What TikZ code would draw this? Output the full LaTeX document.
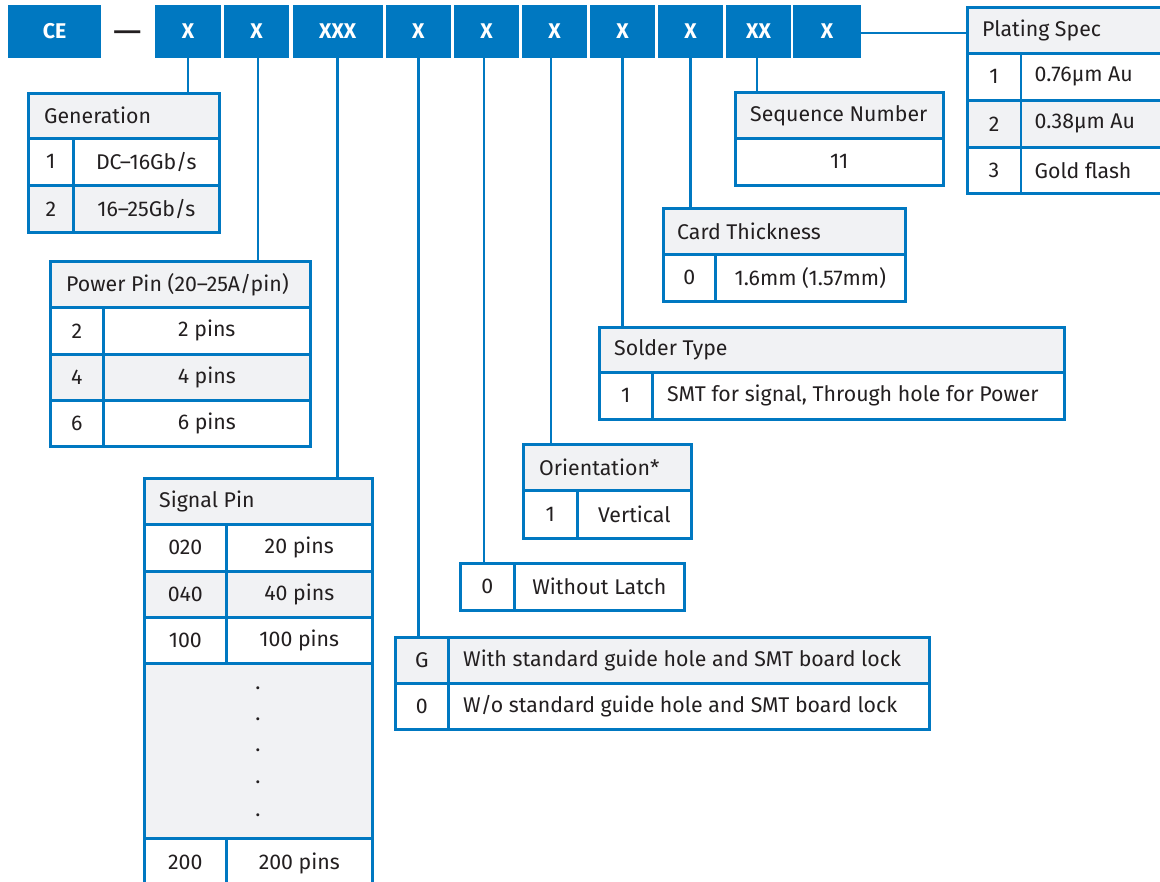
\documentclass[tikz,border=0pt]{standalone}
\usepackage{fontspec}
\setmainfont{Fira Sans}
\definecolor{ceblue}{HTML}{0078C1}
\definecolor{hdr}{HTML}{F1F2F4}
\definecolor{txtc}{HTML}{231F20}
\newcommand\tfont{\fontsize{21.3}{25}\selectfont}
\newcommand\cellbx[7]{\node[cellbox, fill=#6, minimum width=#4pt, minimum height=#5pt] (#1) at (#2,#3) {#7};}
\begin{document}
\begin{tikzpicture}[x=1pt,y=-1pt,
  topbox/.style={fill=ceblue, text=white, font=\tfont\bfseries, minimum height=53pt, inner sep=0pt},
  cellbox/.style={draw=ceblue, line width=2.6pt, inner sep=0pt, anchor=north west, text=txtc, font=\tfont},
  wire/.style={draw=ceblue, line width=2.6pt},
  lbl/.style={anchor=west, inner sep=0pt, text=txtc, font=\tfont},
  dotl/.style={inner sep=0pt, text=txtc, font=\tfont}]
\useasboundingbox (0,0) rectangle (1160,882);
% top bar
\node[topbox, minimum width=93pt] (ce) at (54.5,31.5) {CE};
\node[inner sep=0pt, text=txtc, font=\fontsize{36}{36}\selectfont] (dash) at (128,37.5) {—};
\node[topbox, minimum width=66pt] (x1) at (188,31.5) {X};
\node[topbox, minimum width=65pt] (x2) at (256.5,31.5) {X};
\node[topbox, minimum width=90pt] (x3) at (337.7,31.5) {XXX};
\node[topbox, minimum width=65pt] (x4) at (418.4,31.5) {X};
\node[topbox, minimum width=65pt] (x5) at (486.5,31.5) {X};
\node[topbox, minimum width=65pt] (x6) at (554.5,31.5) {X};
\node[topbox, minimum width=65pt] (x7) at (622.5,31.5) {X};
\node[topbox, minimum width=65pt] (x8) at (690.5,31.5) {X};
\node[topbox, minimum width=65pt] (x9) at (758.5,31.5) {XX};
\node[topbox, minimum width=68pt] (x10) at (827,31.5) {X};
% Generation
\cellbx{gen}{27}{92}{191}{45}{hdr}{}
\node[lbl] (genT) at ([xshift=17pt]gen.west) {Generation};
\cellbx{g1a}{27}{137}{45}{47}{white}{1}
\cellbx{g1b}{72}{137}{146}{47}{white}{DC–16Gb/s}
\cellbx{g2a}{27}{184}{45}{47}{hdr}{2}
\cellbx{g2b}{72}{184}{146}{47}{hdr}{16–25Gb/s}
% Power pin
\cellbx{pw}{49}{260}{260}{46}{hdr}{}
\node[lbl] (pwT) at ([xshift=17pt]pw.west) {Power Pin (20–25A/pin)};
\cellbx{p1a}{49}{306}{53}{47}{white}{2}
\cellbx{p1b}{102}{306}{207}{47}{white}{2 pins}
\cellbx{p2a}{49}{353}{53}{46}{hdr}{4}
\cellbx{p2b}{102}{353}{207}{46}{hdr}{4 pins}
\cellbx{p3a}{49}{399}{53}{46}{white}{6}
\cellbx{p3b}{102}{399}{207}{46}{white}{6 pins}
% Signal pin
\cellbx{sig}{143}{477}{228}{46}{hdr}{}
\node[lbl] (sigT) at ([xshift=16pt]sig.west) {Signal Pin};
\cellbx{s1a}{143}{523}{82}{47}{white}{020}
\cellbx{s1b}{225}{523}{146}{47}{white}{20 pins}
\cellbx{s2a}{143}{570}{82}{46}{hdr}{040}
\cellbx{s2b}{225}{570}{146}{46}{hdr}{40 pins}
\cellbx{s3a}{143}{616}{82}{46}{white}{100}
\cellbx{s3b}{225}{616}{146}{46}{white}{100 pins}
\cellbx{sdots}{143}{662}{228}{175}{hdr}{}
\foreach \yy/\nn in {688/1,719/2,750/3,782/4,815/5}
  \node[dotl] (dot\nn) at (258,\yy) {.};
\cellbx{s4a}{143}{837}{82}{50}{white}{\raisebox{1.5pt}{200}}
\cellbx{s4b}{225}{837}{146}{50}{white}{\raisebox{1.5pt}{200 pins}}
% Plating spec
\cellbx{plat}{966}{6}{204}{46}{hdr}{}
\node[lbl] (platT) at ([xshift=16pt]plat.west) {Plating Spec};
\cellbx{pl1a}{966}{52}{53.5}{47}{white}{1}
\cellbx{pl1b}{1019.5}{52}{150}{47}{white}{}
\node[lbl] (pl1T) at ([xshift=15pt]pl1b.west) {0.76µm Au};
\cellbx{pl2a}{966}{99}{53.5}{47}{hdr}{2}
\cellbx{pl2b}{1019.5}{99}{150}{47}{hdr}{}
\node[lbl] (pl2T) at ([xshift=15pt]pl2b.west) {0.38µm Au};
\cellbx{pl3a}{966}{146}{53.5}{46}{white}{3}
\cellbx{pl3b}{1019.5}{146}{150}{46}{white}{}
\node[lbl] (pl3T) at ([xshift=15pt]pl3b.west) {Gold flash};
% Sequence number
\cellbx{seq}{734}{91}{208}{46}{hdr}{}
\node[lbl] (seqT) at ([xshift=16pt]seq.west) {Sequence Number};
\cellbx{seq1}{734}{137}{208}{47}{white}{11}
% Card thickness
\cellbx{card}{662}{207}{242}{46}{hdr}{}
\node[lbl] (cardT) at ([xshift=15pt]card.west) {Card Thickness};
\cellbx{c1a}{662}{253}{52}{47}{white}{0}
\cellbx{c1b}{714}{253}{190}{47}{white}{1.6mm (1.57mm)}
% Solder type
\cellbx{sol}{598}{326}{465}{45}{hdr}{}
\node[lbl] (solT) at ([xshift=16pt]sol.west) {Solder Type};
\cellbx{so1a}{598}{371}{53}{47}{white}{1}
\cellbx{so1b}{651}{371}{412}{47}{white}{}
\node[lbl] (so1T) at ([xshift=16pt]so1b.west) {SMT for signal, Through hole for Power};
% Orientation
\cellbx{ori}{522}{443}{168}{46}{hdr}{}
\node[lbl] (oriT) at ([xshift=17pt]ori.west) {Orientation*};
\cellbx{o1a}{522}{489}{54}{48}{white}{1}
\cellbx{o1b}{576}{489}{114}{48}{white}{Vertical}
% Latch
\cellbx{lat}{459}{562}{54}{47}{white}{0}
\cellbx{latb}{513}{562}{170}{47}{white}{Without Latch}
% Guide hole
\cellbx{gh}{394}{636}{53}{46}{hdr}{G}
\cellbx{ghb}{447}{636}{481}{46}{hdr}{}
\node[lbl] (ghT) at ([xshift=16pt]ghb.west) {With standard guide hole and SMT board lock};
\cellbx{gh2}{394}{682}{53}{46}{white}{0}
\cellbx{gh2b}{447}{682}{481}{46}{white}{}
\node[lbl] (gh2T) at ([xshift=16pt]gh2b.west) {W/o standard guide hole and SMT board lock};
% connectors
\draw[wire] (x1.south) -- (x1.south |- gen.north);
\draw[wire] ([xshift=1.5pt]x2.south) -- ([xshift=1.5pt]x2.south |- pw.north);
\draw[wire] (x3.south) -- (x3.south |- sig.north);
\draw[wire] (x4.south) -- (x4.south |- gh.north);
\draw[wire] ([xshift=-2.5pt]x5.south) -- ([xshift=-2.5pt]x5.south |- lat.north);
\draw[wire] ([xshift=-3.5pt]x6.south) -- ([xshift=-3.5pt]x6.south |- ori.north);
\draw[wire] (x7.south) -- (x7.south |- sol.north);
\draw[wire] (x8.south) -- (x8.south |- card.north);
\draw[wire] ([xshift=-1.5pt]x9.south) -- ([xshift=-1.5pt]x9.south |- seq.north);
\draw[wire] ([yshift=-1.5pt]x10.east) -- ([yshift=-1.5pt]x10.east -| plat.west);
\end{tikzpicture}
\end{document}
